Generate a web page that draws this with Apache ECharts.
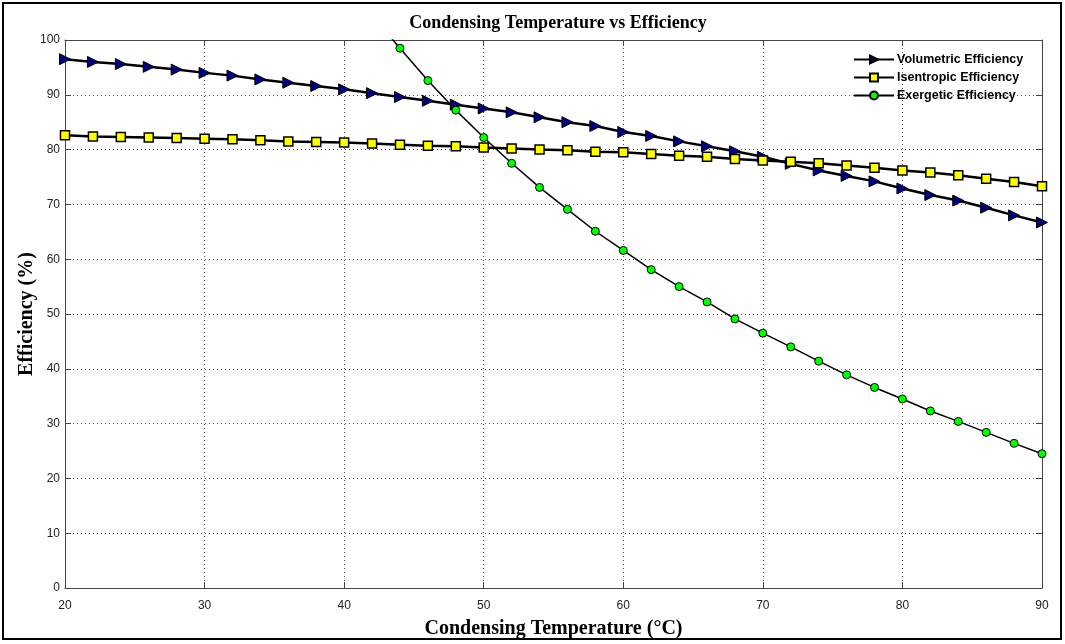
<!DOCTYPE html>
<html>
<head>
<meta charset="utf-8">
<script src="https://cdn.jsdelivr.net/npm/echarts@6/dist/echarts.min.js"></script>
<style>
html,body{margin:0;padding:0;background:#fff;}
#c{width:1065px;height:644px;}
</style>
</head>
<body>
<div id="c"></div>
<script>
const temps = [20,22,24,26,28,30,32,34,36,38,40,42,44,46,48,50,52,54,56,58,60,62,64,66,68,70,72,74,76,78,80,82,84,86,88,90];
const volumetric = [96.5,96.0,95.6,95.1,94.6,94.0,93.5,92.8,92.2,91.6,91.0,90.3,89.6,88.9,88.2,87.5,86.8,85.9,85.0,84.3,83.2,82.5,81.5,80.6,79.7,78.7,77.4,76.2,75.2,74.2,72.9,71.7,70.7,69.4,68.0,66.7];
const isentropic = [82.6,82.4,82.3,82.2,82.1,82.0,81.9,81.7,81.5,81.4,81.3,81.1,80.9,80.7,80.6,80.4,80.2,80.0,79.9,79.6,79.5,79.2,78.9,78.7,78.3,78.0,77.8,77.5,77.1,76.7,76.2,75.8,75.3,74.7,74.1,73.3];
const exergetic = [null,null,null,null,null,null,null,null,null,null,null,104.5,98.5,92.6,87.2,82.2,77.5,73.1,69.1,65.1,61.6,58.1,55.0,52.2,49.1,46.5,44.0,41.4,38.9,36.6,34.5,32.3,30.4,28.4,26.4,24.5];
const seriesNames = ['Volumetric Efficiency','Isentropic Efficiency','Exergetic Efficiency'];
const xTicks = [20,30,40,50,60,70,80,90];
const yTicks = [0,10,20,30,40,50,60,70,80,90,100];

function pairs(vals){
  const out = [];
  for (let i = 0; i < temps.length; i++) {
    if (vals[i] !== null) out.push([temps[i], vals[i]]);
  }
  return out;
}

const chart = echarts.init(document.getElementById('c'), null, {renderer:'canvas'});
const gridLine = {show:true, lineStyle:{color:'#555', width:1, type:[1,3]}};
const axisLabelStyle = {color:'#222', fontFamily:'Liberation Sans, Arial, sans-serif', fontSize:12};
chart.setOption({
  animation:false,
  backgroundColor:'#fff',
  title:{
    text:'Condensing Temperature vs Efficiency',
    left:553, top:9, textAlign:'center',
    textStyle:{fontFamily:'Liberation Serif, Times New Roman, serif', fontWeight:'bold', fontSize:18, color:'#000'}
  },
  graphic:[{
    type:'rect', shape:{x:3, y:3, width:1058, height:636},
    style:{fill:'none', stroke:'#000', lineWidth:2}, silent:true, z:100
  }],
  legend:{
    orient:'vertical', left:853, top:53,
    itemWidth:40, itemHeight:10, itemGap:5,
    data:seriesNames,
    textStyle:{fontFamily:'Liberation Sans, Arial, sans-serif', fontWeight:'bold', fontSize:12.5, color:'#000', padding:[0,0,0,-2]},
    padding:0
  },
  grid:{left:65, right:23, top:40, bottom:52, containLabel:false},
  xAxis:[{
    type:'value', min:20, max:90, interval:10, position:'bottom',
    name:'Condensing Temperature (°C)', nameLocation:'middle', nameGap:31, nameMoveOverlap:false,
    nameTextStyle:{fontFamily:'Liberation Serif, Times New Roman, serif', fontWeight:'bold', fontSize:20, color:'#000'},
    axisLine:{show:true, onZero:false, lineStyle:{color:'#444', width:1}},
    axisTick:{show:true, inside:true, length:6, lineStyle:{color:'#444'}},
    axisLabel:Object.assign({margin:12, formatter:function(v){return xTicks.indexOf(v)>=0?String(v):'';}}, axisLabelStyle),
    splitLine:gridLine
  },{
    type:'value', min:20, max:90, interval:10, position:'top',
    axisLine:{show:true, onZero:false, lineStyle:{color:'#444', width:1}},
    axisTick:{show:true, inside:true, length:6, lineStyle:{color:'#444'}},
    axisLabel:{show:false}, splitLine:{show:false}
  }],
  yAxis:[{
    type:'value', min:0, max:100, interval:10, position:'left',
    name:'Efficiency (%)', nameLocation:'middle', nameGap:28, nameRotate:90, nameMoveOverlap:false,
    nameTextStyle:{fontFamily:'Liberation Serif, Times New Roman, serif', fontWeight:'bold', fontSize:20, color:'#000'},
    axisLine:{show:true, onZero:false, lineStyle:{color:'#444', width:1}},
    axisTick:{show:true, inside:true, length:6, lineStyle:{color:'#444'}},
    axisLabel:Object.assign({margin:5, formatter:function(v){return yTicks.indexOf(v)>=0?String(v):'';}}, axisLabelStyle),
    splitLine:gridLine
  },{
    type:'value', min:0, max:100, interval:10, position:'right',
    axisLine:{show:true, onZero:false, lineStyle:{color:'#444', width:1}},
    axisTick:{show:true, inside:true, length:6, lineStyle:{color:'#444'}},
    axisLabel:{show:false}, splitLine:{show:false}
  }],
  series:[{
    name:seriesNames[0], type:'line', data:pairs(volumetric),
    symbol:'triangle', symbolSize:[11,11], symbolRotate:-90, clip:true,
    lineStyle:{color:'#000', width:2.5},
    itemStyle:{color:'#00007a', borderColor:'#000', borderWidth:1}, z:3
  },{
    name:seriesNames[1], type:'line', data:pairs(isentropic),
    symbol:'rect', symbolSize:9, clip:true,
    lineStyle:{color:'#000', width:2.5},
    itemStyle:{color:'#ffff00', borderColor:'#000', borderWidth:1.5}, z:4
  },{
    name:seriesNames[2], type:'line', data:pairs(exergetic),
    symbol:'circle', symbolSize:8, clip:true,
    lineStyle:{color:'#000', width:1.5},
    itemStyle:{color:'#00ff00', borderColor:'#000', borderWidth:1}, z:5
  }]
});
</script>
</body>
</html>
